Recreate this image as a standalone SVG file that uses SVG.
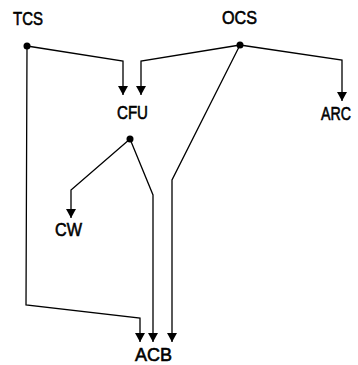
<svg xmlns="http://www.w3.org/2000/svg" width="358" height="365" viewBox="0 0 358 365">
<style>
.lbl{font-family:"Liberation Sans",Arial,sans-serif;font-size:19px;font-weight:normal;fill:#000;stroke:#000;stroke-width:0.6;text-anchor:middle}
.ln{fill:none;stroke:#000;stroke-width:1.3}
.dot{fill:#000}
</style>
<defs>
<marker id="ah" markerUnits="userSpaceOnUse" markerWidth="10" markerHeight="10" viewBox="0 0 9 10" refX="9" refY="5" orient="auto">
<path d="M0,0 L9,5 L0,10 z" fill="#000"/>
</marker>
</defs>
<rect width="358" height="365" fill="#fff"/>
<g id="connectors">
<polyline class="ln" points="27,46 123,61 123,95" marker-end="url(#ah)"/>
<polyline class="ln" points="240,45 141,61 141,95" marker-end="url(#ah)"/>
<polyline class="ln" points="240,45 342,60 342,101" marker-end="url(#ah)"/>
<polyline class="ln" points="240,45 172,180 172,342" marker-end="url(#ah)"/>
<polyline class="ln" points="130,139 71,190 71,218" marker-end="url(#ah)"/>
<polyline class="ln" points="130,139 153,195 153,342" marker-end="url(#ah)"/>
<polyline class="ln" points="27,46 26,305 140,318 140,342" marker-end="url(#ah)"/>
<circle class="dot" cx="27" cy="46" r="3.5"/>
<circle class="dot" cx="240" cy="45" r="3.5"/>
<circle class="dot" cx="130" cy="139" r="3.5"/>
</g>
<g id="TCS"><text class="lbl" x="28" y="25" textLength="30" lengthAdjust="spacingAndGlyphs">TCS</text></g>
<g id="OCS"><text class="lbl" x="239.5" y="23.5" textLength="35" lengthAdjust="spacingAndGlyphs">OCS</text></g>
<g id="CFU"><text class="lbl" x="132.5" y="119" textLength="31" lengthAdjust="spacingAndGlyphs">CFU</text></g>
<g id="ARC"><text class="lbl" x="336" y="120" font-size="17" textLength="30" lengthAdjust="spacingAndGlyphs">ARC</text></g>
<g id="CW"><text class="lbl" x="68.5" y="236" textLength="27" lengthAdjust="spacingAndGlyphs">CW</text></g>
<g id="ACB"><text class="lbl" x="153.5" y="361" textLength="37" lengthAdjust="spacingAndGlyphs">ACB</text></g>
</svg>
